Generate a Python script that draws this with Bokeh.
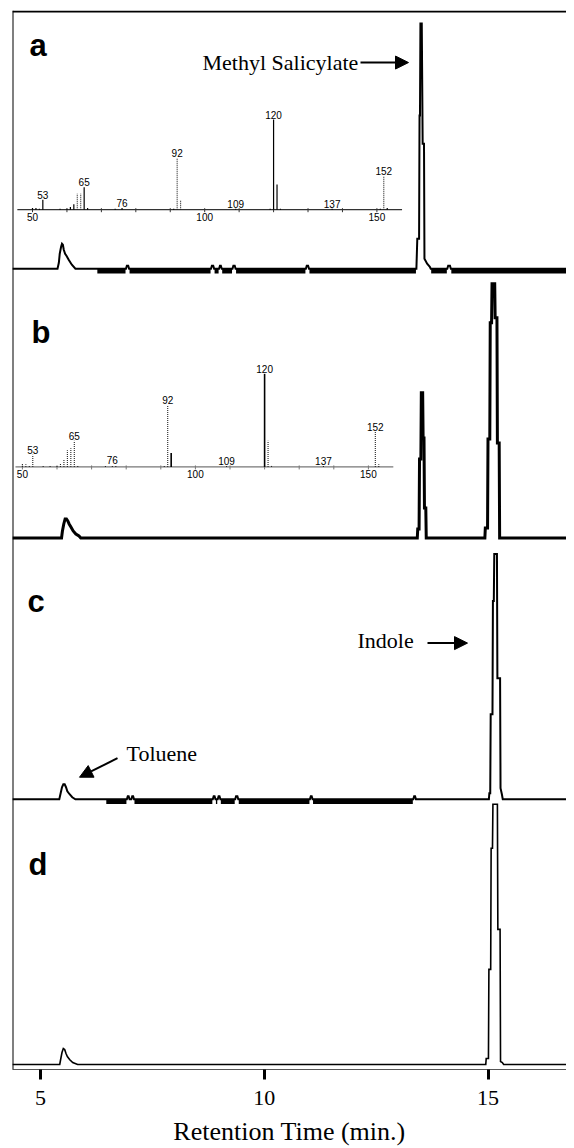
from bokeh.plotting import figure
from bokeh.models import Range1d, FixedTicker, Span, Arrow, NormalHead, Label
from bokeh.core.properties import value
from bokeh.embed import file_html
from bokeh.resources import INLINE

# ---------------- data ----------------
# Retention time (min) and detector response (arbitrary units) for each chromatogram
time_a = [4.37, 5.38, 5.41, 5.43, 5.46, 5.48, 5.50, 5.52, 5.55, 5.58, 5.63, 5.70, 5.78,
          6.91, 6.93, 6.96, 6.98,
          8.81, 8.83, 8.86, 8.88,
          8.99, 9.01, 9.03, 9.05,
          9.29, 9.31, 9.34, 9.36,
          10.93, 10.95, 10.98, 11.00,
          13.40, 13.42, 13.46, 13.47, 13.48, 13.49, 13.52, 13.54, 13.57, 13.58, 13.64, 13.70, 13.72,
          14.09, 14.11, 14.15, 14.17, 16.76]
resp_a = [0, 0, 6, 15, 22, 25, 24, 19, 15, 13, 9, 4, 0,
          0, 3, 3, 0,
          0, 3, 3, 0,
          0, 3, 3, 0,
          0, 3, 3, 0,
          0, 3, 3, 0,
          0, 30, 30, 153, 153, 245, 245, 125, 125, 10, 5, 2, 0,
          0, 3, 3, 0, 0]
noise_a_start = [6.27, 6.99, 8.89, 9.06, 9.37, 11.01, 13.73, 14.18]
noise_a_end = [6.90, 8.80, 8.98, 9.28, 10.92, 13.39, 14.08, 16.76]

time_b = [4.37, 5.47, 5.49, 5.52, 5.55, 5.58, 5.61, 5.64, 5.68, 5.73, 5.79, 5.86, 5.90,
          13.42, 13.43, 13.46, 13.47, 13.50, 13.51, 13.54, 13.55, 13.57, 13.58, 13.61, 13.62,
          14.93, 14.94, 14.99, 15.00, 15.04, 15.05, 15.08, 15.09, 15.15, 15.16, 15.20, 15.21,
          15.25, 15.26, 16.76]
resp_b = [0, 0, 7, 14, 19, 19, 17, 14, 11, 7, 4, 2, 0,
          0, 9, 9, 79, 79, 145, 145, 100, 100, 30, 30, 0,
          0, 10, 10, 99, 99, 215, 215, 254, 254, 220, 220, 95,
          95, 0, 0]

time_c = [4.37, 5.42, 5.45, 5.48, 5.51, 5.54, 5.57, 5.60, 5.65, 5.71, 5.78,
          6.93, 6.95, 6.97, 6.99, 7.03, 7.05, 7.07, 7.09,
          8.85, 8.87, 8.89, 8.91, 8.96, 8.98, 9.00, 9.02,
          9.35, 9.37, 9.40, 9.42,
          11.02, 11.04, 11.06, 11.08,
          13.33, 13.35, 13.37, 13.39,
          15.02, 15.03, 15.05, 15.06, 15.10, 15.11, 15.13, 15.14, 15.20, 15.21, 15.27, 15.28,
          15.31, 15.33, 16.76]
resp_c = [0, 0, 6, 12, 15, 15, 12, 8, 5, 2, 0,
          0, 3, 3, 0, 0, 3, 3, 0,
          0, 3, 3, 0, 0, 3, 3, 0,
          0, 3, 3, 0,
          0, 3, 3, 0,
          0, 3, 3, 0,
          0, 6, 6, 85, 85, 198, 198, 245, 245, 121, 121, 11,
          5, 0, 0]
noise_c_start = [6.47, 7.10, 8.92, 9.03, 9.43, 11.09]
noise_c_end = [6.92, 8.84, 8.95, 9.34, 11.01, 13.32]

time_d = [4.37, 5.43, 5.45, 5.48, 5.51, 5.54, 5.57, 5.60, 5.65, 5.72, 5.83,
          14.95, 14.96, 15.01, 15.02, 15.06, 15.07, 15.10, 15.11, 15.21, 15.22, 15.27, 15.28,
          15.32, 15.35, 16.76]
resp_d = [0, 0, 5, 12, 16, 15, 11, 8, 5, 2, 0,
          0, 6, 6, 95, 95, 216, 216, 260, 260, 135, 135, 3,
          2, 0, 0]

# Mass spectra insets (m/z, relative abundance %)
ms_a_mz = [50, 51, 52, 53, 58, 60, 61, 62, 63, 64, 65, 66, 74, 76, 91, 92, 93, 109, 119, 120,
           121, 122, 137, 151, 152, 153]
ms_a_int = [2, 2, 1, 11, 1, 1, 3, 6, 18, 18, 25, 2, 1, 2, 1, 57, 11, 1, 1, 100,
            28, 1, 1, 1, 37, 2]
ms_b_mz = [50, 51, 52, 53, 56, 58, 60, 61, 62, 63, 64, 65, 66, 74, 76, 77, 91, 92, 93, 109,
           120, 121, 122, 137, 152, 153]
ms_b_int = [4, 3, 2, 13, 1, 1, 2, 4, 8, 18, 20, 28, 2, 1, 2, 2, 2, 66, 15, 1,
            100, 28, 2, 1, 38, 3]
ms_labels = [53, 65, 76, 92, 109, 120, 137, 152]
ms_ticks = [50, 100, 150]
ms_minor_ticks = [50, 60, 70, 80, 90, 100, 110, 120, 130, 140, 150]
rt_ticks = [5, 10, 15]
panel_names = ["a", "b", "c", "d"]

# ---------------- layout helpers ----------------
T5_PX = 40.0          # page x of t = 5 min
PX_PER_MIN = 44.75
FRAME_BOTTOM = 1068.0  # page y of the frame bottom
FRAME_H = 1058


def tx(px):
    return 5 + (px - T5_PX) / PX_PER_MIN


def ty(py):
    return FRAME_BOTTOM - py


p = figure(width=566, height=1148,
           x_range=Range1d(tx(12), tx(566)), y_range=Range1d(0, FRAME_H),
           y_axis_location=None, output_backend="svg", toolbar_location=None,
           min_border_left=12, min_border_right=0, min_border_top=10, min_border_bottom=0)
p.outline_line_color = None
p.grid.visible = False
p.background_fill_color = "white"

ax = p.xaxis[0]
ax.ticker = FixedTicker(ticks=rt_ticks)
ax.minor_tick_line_color = None
ax.major_tick_out = 10
ax.major_tick_in = 0
ax.major_tick_line_width = 3
ax.axis_line_width = 1
ax.axis_line_color = "#555555"
ax.major_label_text_font = "Liberation Serif"
ax.major_label_text_font_size = "22px"
ax.major_label_text_color = "black"
ax.major_label_standoff = 11
ax.axis_label = "Retention Time (min.)"
ax.axis_label_text_font = "Liberation Serif"
ax.axis_label_text_font_style = "normal"
ax.axis_label_text_font_size = "26px"
ax.axis_label_text_color = "black"
ax.axis_label_standoff = 9

# frame border lines (left and top)
p.add_layout(Span(location=tx(12), dimension="height", line_color="black", line_width=2))
p.add_layout(Span(location=FRAME_H - 1, dimension="width", line_color="black", line_width=2))

# ---------------- chromatograms ----------------
traces = [
    (time_a, resp_a, ty(268), 2),
    (time_b, resp_b, ty(537), 3),
    (time_c, resp_c, ty(798), 2),
    (time_d, resp_d, ty(1063), 1.6),
]
for t, r, base, lw in traces:
    p.line(t, [base + v for v in r], line_color="black", line_width=lw, line_join="miter")

for starts, ends, base in [(noise_a_start, noise_a_end, ty(268)),
                           (noise_c_start, noise_c_end, ty(798))]:
    yb = base - 2.2
    p.segment(x0=starts, y0=[yb] * len(starts), x1=ends, y1=[yb] * len(ends),
              line_color="black", line_width=5, line_cap="butt")

# ---------------- mass spectrum insets ----------------
insets = [
    # name, mz, int, x of m/z 50 (page px), px per m/z, axis page y, px per %, axis ends,
    # dotted set, solid set, axis colour
    ("a", ms_a_mz, ms_a_int, 32.0, 3.444, 209, 0.90, (45.6, 157.3), {63, 64, 92, 93, 152}, None, "#333333"),
    ("b", ms_b_mz, ms_b_int, 21.9, 3.46, 466, 0.93, (48.0, 157.2), None, {93, 120}, "#777777"),
]
for name, mz, inten, x50, ppu, axis_py, ppp, (a0, a1), dotted, solid, acol in insets:
    xr, yr = "mz_" + name, "ab_" + name
    start = 50 - (x50 - 12) / ppu
    p.extra_x_ranges[xr] = Range1d(start, start + 554 / ppu)
    y0 = ty(axis_py)
    p.extra_y_ranges[yr] = Range1d(-y0 / ppp, (FRAME_H - y0) / ppp)
    kw = dict(x_range_name=xr, y_range_name=yr)
    # axis line and ticks
    p.segment(x0=[a0], y0=[0], x1=[a1], y1=[0], line_color=acol, line_width=1.2, **kw)
    p.segment(x0=ms_minor_ticks, y0=[1.5 / ppp] * len(ms_minor_ticks), x1=ms_minor_ticks,
              y1=[-2.5 / ppp] * len(ms_minor_ticks), line_color=acol, line_width=1, **kw)
    p.text(x=ms_ticks, y=[-3 / ppp] * 3, text=[str(v) for v in ms_ticks],
           text_align="center", text_baseline="top", text_font=value("Liberation Sans"),
           text_font_size="10px", text_color="black", **kw)
    # peaks
    if dotted is not None:
        is_dot = [m in dotted for m in mz]
    else:
        is_dot = [m not in solid for m in mz]
    sx = [m for m, d in zip(mz, is_dot) if not d]
    sy = [v for v, d in zip(inten, is_dot) if not d]
    dx = [m for m, d in zip(mz, is_dot) if d]
    dy = [v for v, d in zip(inten, is_dot) if d]
    p.segment(x0=sx, y0=[0] * len(sx), x1=sx, y1=sy, line_color="black",
              line_width=1.2 if name == "a" else 1.6, **kw)
    p.segment(x0=dx, y0=[0] * len(dx), x1=dx, y1=dy, line_color="#222222",
              line_width=1.1, line_dash="1 1", **kw)
    lab_y = [inten[mz.index(m)] for m in ms_labels]
    p.text(x=ms_labels, y=lab_y, text=[str(m) for m in ms_labels], y_offset=-1,
           text_align="center", text_baseline="bottom", text_font=value("Liberation Sans"),
           text_font_size="10px", text_color="black", **kw)

# ---------------- panel letters and annotations ----------------
for name, (px, py) in zip(panel_names, [(29, 45), (31, 332), (27, 600), (28, 863)]):
    p.add_layout(Label(x=tx(px), y=ty(py), text=name, text_font="Liberation Sans",
                       text_font_style="bold", text_font_size="31px", text_color="black",
                       text_baseline="alphabetic"))

serif = dict(text_font="Liberation Serif", text_font_size="22px", text_color="black",
             text_baseline="middle")
p.add_layout(Label(x=tx(202), y=ty(62), text="Methyl Salicylate", **serif))
p.add_layout(Label(x=tx(357), y=ty(639), text="Indole", **serif))
p.add_layout(Label(x=tx(126), y=ty(752), text="Toluene", **serif))

for (x0, y0, x1, y1) in [(360, 62, 408, 62), (427, 642, 467, 642), (117, 757, 79, 776)]:
    p.add_layout(Arrow(end=NormalHead(size=13, fill_color="black", line_color="black"),
                       x_start=tx(x0), y_start=ty(y0), x_end=tx(x1), y_end=ty(y1),
                       line_color="black", line_width=2))

open("out.html", "w").write(file_html(p, INLINE))
